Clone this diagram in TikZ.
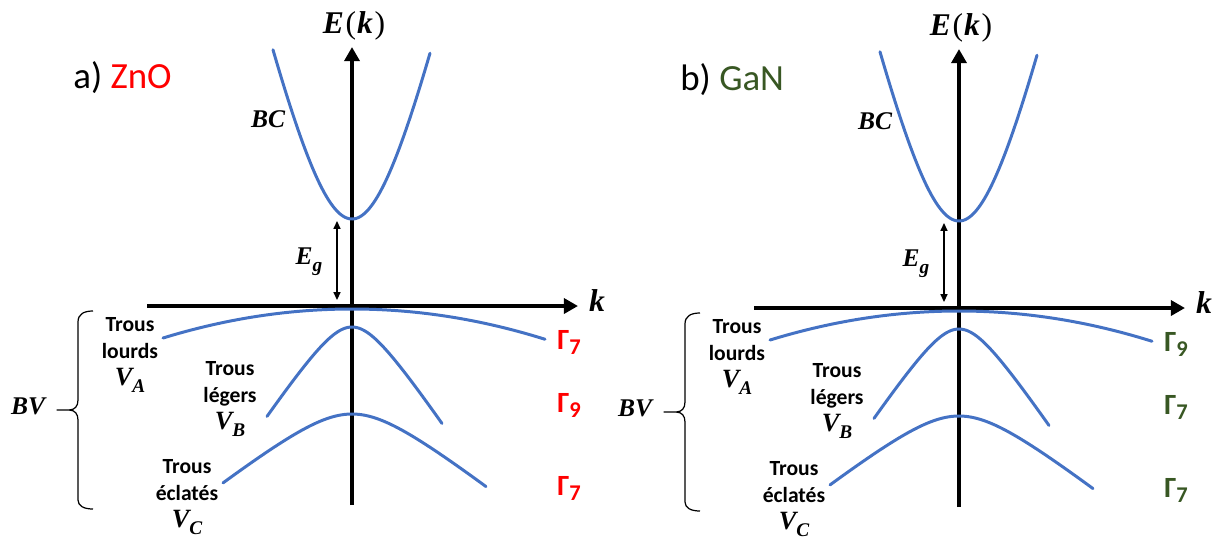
\documentclass[tikz,border=0pt]{standalone}
\usepackage{fontspec}
\setmainfont{Carlito}
\newfontfamily\mfont{Liberation Serif}
\usetikzlibrary{arrows.meta}
\definecolor{bandblue}{RGB}{68,114,196}
\definecolor{znored}{RGB}{255,0,0}
\definecolor{gangreen}{RGB}{56,87,35}
\newcommand{\textGamma}{Γ}
\newcommand{\gsub}[1]{\textGamma\raisebox{-3.4pt}{\fontsize{12.8}{14}\selectfont #1}}
\newcommand{\mi}[1]{{\mfont\bfseries\itshape #1}}
\newcommand{\msub}[2]{\mi{#1}\raisebox{-4pt}{\fontsize{11}{12}\selectfont\mi{#2}}}
\newcommand{\bandpanel}[6]{%
  \coordinate (o) at (352,306);
  \coordinate (ytop) at (352,47);
  \coordinate (ybot) at (352,505);
  \coordinate (xl) at (147,306);
  \coordinate (xr) at (578,306);
  \draw[axis] (ybot) -- (ytop);
  \draw[axis] (xl) -- (xr);
  \node[mlbl, font=\fontsize{18}{20}\selectfont] (ek) at (354,26) {\mi{E}\kern1pt{\mfont(}\kern0.5pt\mi{k}\kern1pt{\mfont)}};
  \node[mlbl, font=\fontsize{18}{20}\selectfont] (kl) at (597,301) {\mi{k}};
  \node[title] (title) at (73,78) {#1) \textcolor{#3}{#2}};
  % conduction band
  \draw[band] plot[domain=-79:78, samples=90] ({352+\x},{219-259*(sqrt(1+(\x/60)*(\x/60))-1)});
  % heavy holes
  \draw[band] plot[domain=-189:193, samples=90] ({352+\x},{309+(0.0285*\x)*(0.0285*\x)});
  % light holes
  \draw[band] plot[domain=-85:90, samples=90] ({352+\x},{327+44.6*(sqrt(1+(\x/30)*(\x/30))-1)});
  % split-off
  \draw[band] plot[domain=-129:134, samples=90] ({352+\x},{414+39*(sqrt(1+(\x/50)*(\x/50))-1)});
  % gap arrow
  \coordinate (gtop) at (337,221);
  \coordinate (gbot) at (337,300);
  \draw[gaparrow] (gbot) -- (gtop);
  \node[mlbl] (eg) at (309,262) {\msub{E}{g}};
  \node[mlbl] (bc) at (268,119) {\mi{BC}};
  \node[mlbl] (bv) at (28,406) {\mi{BV}};
  % brace
  \coordinate (bt) at (93,311);
  \coordinate (bb) at (93,509);
  \coordinate (btip) at (57,410);
  \draw[brace] (bt) .. controls (84,311) and (78,314) .. (78,322) -- (78,400)
     .. controls (78,406) and (75,410) .. (69,410) -- (btip) -- (69,410)
     .. controls (75,410) and (78,414) .. (78,420) -- (78,500)
     .. controls (78,506) and (84,509) .. (bb);
  % hole labels
  \node[holes] (va) at (130,355) {Trous\\lourds\\{\fontsize{15}{15}\selectfont\msub{V}{A}}};
  \node[holes] (vb) at (230,399) {Trous\\légers\\{\fontsize{15}{15}\selectfont\msub{V}{B}}};
  \node[holes] (vc) at (187,497) {Trous\\éclatés\\{\fontsize{15}{15}\selectfont\msub{V}{C}}};
  % symmetry labels
  \node[gam, text=#3] (g1) at (557,349) {\gsub{#4}};
  \node[gam, text=#3] (g2) at (557,412) {\gsub{#5}};
  \node[gam, text=#3] (g3) at (557,495) {\gsub{#6}};
}
\begin{document}
\begin{tikzpicture}[x=0.02cm,y=-0.02cm,
  axis/.style={line width=2.8pt, -{Triangle[length=8pt,width=8.5pt]}},
  band/.style={line width=1.7pt, bandblue, line cap=round},
  gaparrow/.style={line width=0.85pt, {Triangle[length=4.5pt,width=4pt]}-{Triangle[length=4.5pt,width=4pt]}},
  brace/.style={line width=0.7pt, line join=round},
  mlbl/.style={font=\fontsize{14.5}{16}\selectfont, inner sep=0pt},
  holes/.style={font=\fontsize{12.3}{15.3}\selectfont\bfseries, align=center, inner sep=0pt},
  gam/.style={font=\fontsize{16.7}{19}\selectfont\bfseries, inner sep=0pt, anchor=base west},
  title/.style={font=\fontsize{21}{24}\selectfont, inner sep=0pt, anchor=west}]
\useasboundingbox (0,0) rectangle (1225,539);
\begin{scope}[name prefix=a-]
  \bandpanel{a}{ZnO}{znored}{7}{9}{7}
\end{scope}
\begin{scope}[shift={(607,2)}, name prefix=b-]
  \bandpanel{b}{GaN}{gangreen}{9}{7}{7}
\end{scope}
\end{tikzpicture}
\end{document}
